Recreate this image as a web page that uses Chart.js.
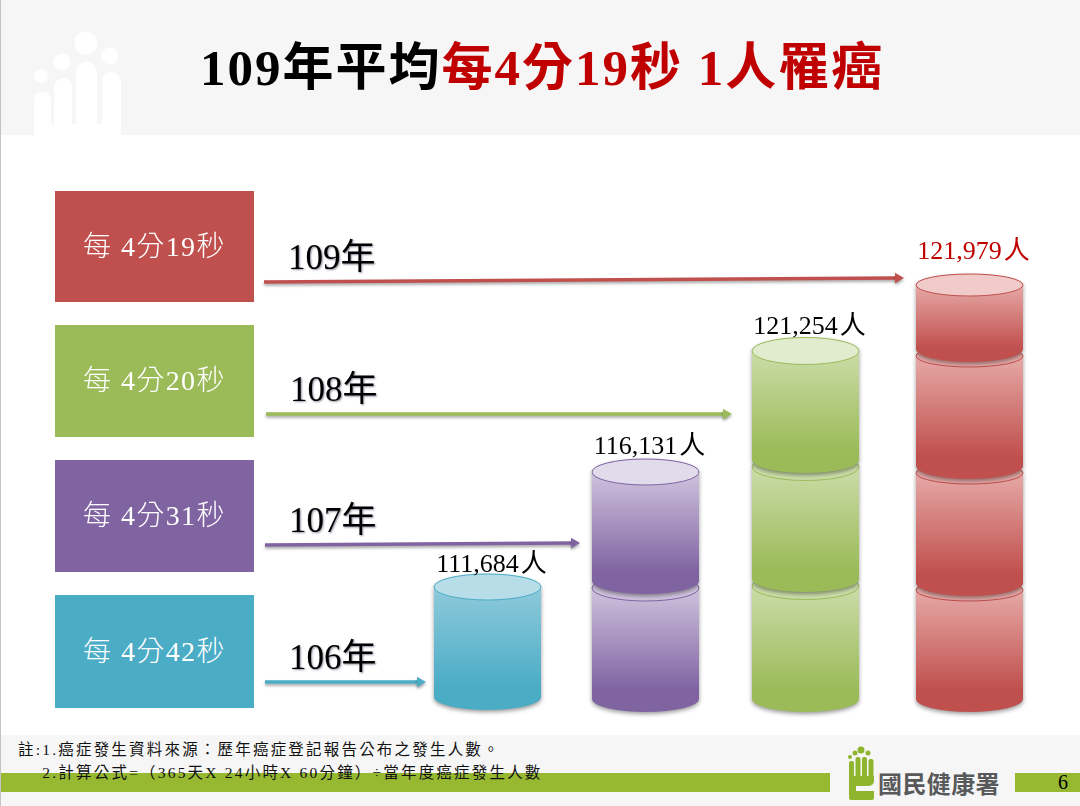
<!DOCTYPE html>
<html lang="zh-Hant">
<head>
<meta charset="UTF-8">
<title>109年平均每4分19秒 1人罹癌</title>
<script src="https://cdn.jsdelivr.net/npm/chart.js"></script>
<style>
    body { margin: 0; background: #fff; }
    #slide { position: relative; width: 1080px; height: 806px; overflow: hidden; font-family: "Liberation Serif", "Noto Sans CJK TC", serif; }
    #slide > * { position: absolute; }
    #edge { left: 0; top: 0; width: 1px; height: 806px; background: #c4c4c4; z-index: 5; }
    #header { left: 0; top: 0; width: 1080px; height: 135px; background: #f6f6f6; }
    #footer { left: 0; top: 735px; width: 1080px; height: 71px; background: #f6f6f6; }
    .greenbar { top: 773px; height: 19px; background: #97b931; }
    #title { left: 200px; top: 36px; font-size: 51px; line-height: 64px; font-weight: 700; letter-spacing: 2px; white-space: pre; color: #000; }
    #title span { color: #c00000; }
    .panel { left: 55px; width: 199px; box-sizing: border-box; padding-bottom: 6px; display: flex; align-items: center; justify-content: center; color: #fff; font-size: 28px; font-weight: 300; letter-spacing: 1.4px; white-space: pre; }
    #note { left: 18px; top: 738px; font-size: 15.5px; line-height: 23px; letter-spacing: 2.2px; white-space: pre; color: #111; }
    #org { left: 878px; top: 768px; font-family: "Noto Sans CJK TC", sans-serif; font-size: 24px; line-height: 30px; font-weight: 700; color: #58595b; letter-spacing: 0.4px; white-space: pre; }
    #page { left: 1058px; top: 770px; font-size: 20px; line-height: 24px; color: #000; }
    canvas { left: 0; top: 0; }
</style>
</head>
<body>
<div id="slide">
    <div id="header"></div>
    <svg style="left:0;top:0" width="140" height="135">
        <g fill="#fff">
            <circle cx="86" cy="43" r="11.5"/><circle cx="62" cy="62" r="8.5"/><circle cx="110" cy="56" r="8.5"/><circle cx="41" cy="76" r="7"/>
            <rect x="76" y="62" width="21" height="90" rx="10"/><rect x="54" y="78" width="18" height="80" rx="9"/>
            <rect x="102" y="72" width="19" height="80" rx="9"/><rect x="34" y="92" width="17" height="60" rx="8"/>
            <rect x="34" y="124" width="87" height="11"/>
        </g>
    </svg>
    <div id="footer"></div>
    <div class="greenbar" style="left:0;width:830px"></div>
    <div class="greenbar" style="left:1015px;width:65px"></div>
    <svg style="left:845px;top:742px" width="34" height="62">
        <g fill="#8fb52e">
            <circle cx="16" cy="8" r="3.5"/><circle cx="10" cy="11" r="2.5"/><circle cx="23" cy="11" r="2.5"/><circle cx="5" cy="15" r="2"/>
            <rect x="4" y="19" width="5" height="20" rx="2"/><rect x="10.5" y="15" width="5" height="24" rx="2"/>
            <rect x="17" y="15" width="5" height="24" rx="2"/><rect x="23.5" y="17" width="5" height="22" rx="2"/>
            <path d="M4 34H29V39Q29 44 22 44H11V49H29V56Q29 58 27 58H6Q4 58 4 56Z"/>
        </g>
    </svg>
    <div id="org">國民健康署</div>
    <div id="page">6</div>
    <div id="title">109年平均<span>每4分19秒 1人罹癌</span></div>
    <div id="note">註:1.癌症發生資料來源：歷年癌症登記報告公布之發生人數。
    2.計算公式=（365天X 24小時X 60分鐘）÷當年度癌症發生人數</div>
    <canvas id="myChart" width="1080" height="806"></canvas>
    <div id="edge"></div>
</div>

<script>
    // data, oldest year first
    const years = ['106年', '107年', '108年', '109年'];
    const cases = [111684, 116131, 121254, 121979];
    const intervals = ['每 4分42秒', '每 4分31秒', '每 4分20秒', '每 4分19秒'];

    // height of each stacked cylinder
    const lift = [2, 0, 0, 0];
    const segment1 = [110, 118, 120, 116];
    const segment2 = [0, 109, 119, 117];
    const segment3 = [0, 0, 109, 117];
    const segment4 = [0, 0, 0, 64];

    // columns and arrows along the slide axis
    const columnX = [487.5, 645.5, 805.5, 969.5];
    const arrowFrom = [265, 265, 266, 264];
    const arrowTo = [420, 574, 726, 898];
    const arrowStartY = [17, 154, 285, 417];
    const arrowEndY = [17, 156, 285, 421];

    const baseColors = ['#4bacc6', '#8064a2', '#9bbb59', '#c0504d'];
    const lightColors = ['#8fcadb', '#cfc3de', '#cbdca8', '#e6a9a7'];
    const capColors = ['#b7dde8', '#e1dbeb', '#e1ebce', '#f0cbca'];
    const labelColors = ['#000', '#000', '#000', '#c00000'];
    const labelRise = [22, 25, 24, 33];
    const capRadius = [13, 13, 13.5, 11];
    const panelTops = [595, 460, 325, 191];
    const panelHeights = [113, 112, 112, 111];

    intervals.forEach(function (text, i) {
        const panel = document.createElement('div');
        panel.className = 'panel';
        panel.textContent = text;
        panel.style.top = panelTops[i] + 'px';
        panel.style.height = panelHeights[i] + 'px';
        panel.style.background = baseColors[i];
        document.getElementById('slide').appendChild(panel);
    });

    function cylinder(ctx, x, w, top, bottom, i, closed) {
        const left = x - w / 2, right = x + w / 2, ry = 13;
        const capRy = capRadius[i];
        const fill = ctx.createLinearGradient(0, top, 0, bottom + ry);
        fill.addColorStop(0, lightColors[i]);
        fill.addColorStop(0.82, baseColors[i]);
        fill.addColorStop(1, baseColors[i]);

        ctx.save();
        ctx.shadowColor = 'rgba(0,0,0,0.4)';
        ctx.shadowBlur = 4;
        ctx.shadowOffsetY = 2;
        ctx.beginPath();
        ctx.moveTo(left, top);
        ctx.lineTo(left, bottom);
        ctx.ellipse(x, bottom, w / 2, ry, 0, Math.PI, 0, true);
        ctx.lineTo(right, top);
        ctx.ellipse(x, top, w / 2, capRy, 0, 0, Math.PI, true);
        ctx.closePath();
        ctx.fillStyle = fill;
        ctx.fill();
        ctx.restore();

        ctx.beginPath();
        ctx.ellipse(x, top, w / 2, capRy, 0, 0, Math.PI * 2);
        ctx.fillStyle = closed ? capColors[i] : lightColors[i];
        ctx.fill();
        ctx.strokeStyle = baseColors[i];
        ctx.lineWidth = 1;
        ctx.stroke();
    }

    const cylinderPlugin = {
        id: 'cylinders',
        beforeDatasetDraw(chart, args) {
            if (args.meta.type === 'line') {
                const ctx = chart.ctx;
                ctx.save();
                ctx.shadowColor = 'rgba(0,0,0,0.35)';
                ctx.shadowBlur = 3;
                ctx.shadowOffsetY = 2;
            }
        },
        afterDatasetDraw(chart, args) {
            if (args.meta.type === 'line') chart.ctx.restore();
        },
        afterDatasetsDraw(chart) {
            const ctx = chart.ctx;
            const segments = [segment1, segment2, segment3, segment4];

            years.forEach(function (year, i) {
                let topY = 0, x = 0;
                segments.forEach(function (values, s) {
                    if (!values[i]) return;
                    const bar = chart.getDatasetMeta(s + 1).data[i];
                    const closed = s === segments.length - 1 || !segments[s + 1][i];
                    // lower drums show a sliver of rim below the drum sitting on them
                    cylinder(ctx, bar.x, bar.width, closed ? bar.y : bar.y + 7, bar.base, i, closed);
                    topY = bar.y; x = bar.x;
                });

                ctx.save();
                ctx.textBaseline = 'middle';
                ctx.textAlign = 'center';
                ctx.font = '26px "Liberation Serif", "Noto Sans CJK TC", serif';
                ctx.fillStyle = labelColors[i];
                ctx.fillText(cases[i].toLocaleString('en-US') + '\u200a人', x + 4, topY - labelRise[i]);

                ctx.textAlign = 'left';
                ctx.font = '35px "Liberation Serif", "Noto Sans CJK TC", serif';
                ctx.fillStyle = '#000';
                ctx.shadowColor = 'rgba(0,0,40,0.45)';
                ctx.shadowBlur = 2;
                ctx.shadowOffsetX = 1;
                ctx.shadowOffsetY = 1;
                ctx.fillText(year, chart.scales.x.getPixelForValue(arrowFrom[i]) + 24,
                    chart.scales.y.getPixelForValue(arrowStartY[i]) - 22);
                ctx.restore();
            });
        }
    };

    function barSet(values) {
        return {
            type: 'bar',
            stack: 'drums',
            barThickness: 107,
            backgroundColor: 'transparent',
            data: values.map(function (v, i) { return { x: columnX[i], y: v }; })
        };
    }

    function arrowSet(i) {
        return {
            type: 'line',
            borderColor: baseColors[i],
            backgroundColor: baseColors[i],
            borderWidth: 3.5,
            pointStyle: 'triangle',
            pointRadius: [0, 6],
            pointRotation: [0, 90],
            pointBorderWidth: 0,
            data: [{ x: arrowFrom[i], y: arrowStartY[i] }, { x: arrowTo[i], y: arrowEndY[i] }]
        };
    }

    new Chart(document.getElementById('myChart'), {
        type: 'bar',
        data: {
            datasets: [
                barSet(lift), barSet(segment1), barSet(segment2), barSet(segment3), barSet(segment4),
                arrowSet(0), arrowSet(1), arrowSet(2), arrowSet(3)
            ]
        },
        options: {
            responsive: false,
            animation: false,
            layout: { padding: 0, autoPadding: false },
            plugins: { legend: { display: false }, tooltip: { enabled: false } },
            scales: {
                x: { type: 'linear', display: false, offset: false, min: 0, max: 1080 },
                y: { type: 'linear', display: false, min: -107, max: 699 }
            }
        },
        plugins: [cylinderPlugin]
    });
</script>
</body>
</html>
